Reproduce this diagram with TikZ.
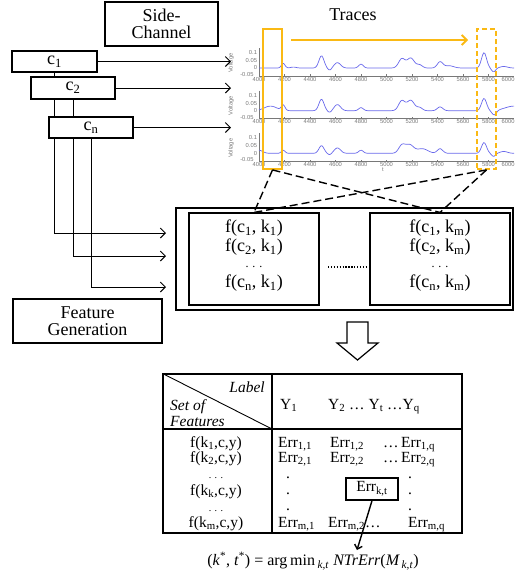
\documentclass[tikz,border=0pt]{standalone}
\usepackage{fontspec}
\setmainfont{Liberation Serif}
\newfontfamily\tickfont{Liberation Sans}
\usetikzlibrary{arrows.meta}
\pgfdeclarelayer{bg}
\pgfsetlayers{bg,main}
\definecolor{gold}{RGB}{250,185,20}
\definecolor{trc}{RGB}{105,105,235}
\definecolor{axg}{RGB}{120,120,120}
\newcommand{\sbs}[1]{\textsubscript{#1}}
\newcommand{\sps}[1]{\textsuperscript{#1}}
\begin{document}
\begin{tikzpicture}[x=1pt,y=-1pt,
  box/.style={draw,line width=1.1pt,fill=white,inner sep=0pt,align=center},
  big/.style={font=\fontsize{18}{18}\selectfont},
  tab/.style={font=\fontsize{15.5}{17}\selectfont,inner sep=0pt},
  arr/.style={line width=1pt,-{Straight Barb[length=5pt,width=10pt]}},
  dsh/.style={line width=1.4pt,dash pattern=on 8pt off 4pt},
  trace/.style={trc,line width=0.7pt},
  axisln/.style={axg,line width=0.4pt},
  ticklab/.style={axg,font=\tickfont\fontsize{5.8}{6}\selectfont,inner sep=0.3pt},
  declare function={
    gb(\xa,\ca,\wa)=exp(-min(((\xa-\ca)/\wa)*((\xa-\ca)/\wa),25));
    VA(\xa)=0.03*gb(\xa,190,20)+0.006*gb(\xa,270,30)+0.08*gb(\xa,490,28)-0.015*gb(\xa,555,20)+0.035*gb(\xa,615,35)+0.025*gb(\xa,800,25)+0.06*gb(\xa,1120,35)+0.065*gb(\xa,1190,40)+0.02*gb(\xa,1260,30)+0.04*gb(\xa,1420,30)+0.015*gb(\xa,1490,50)+0.1*gb(\xa,1765,28)-0.025*gb(\xa,1840,22)+0.01*gb(\xa,1920,40);
    VB(\xa)=0.03*gb(\xa,90,70)+0.035*gb(\xa,190,20)+0.075*gb(\xa,490,28)-0.012*gb(\xa,555,20)+0.04*gb(\xa,615,35)+0.02*gb(\xa,800,25)+0.065*gb(\xa,1120,35)+0.068*gb(\xa,1190,40)+0.02*gb(\xa,1260,30)+0.025*gb(\xa,1420,30)+0.08*gb(\xa,1765,28)-0.03*gb(\xa,1845,25)+0.03*gb(\xa,2000,100);
    VC(\xa)=0.02*gb(\xa,0,40)+0.02*gb(\xa,190,20)+0.05*gb(\xa,490,28)-0.01*gb(\xa,555,20)+0.035*gb(\xa,615,35)+0.02*gb(\xa,800,25)+0.05*gb(\xa,1120,35)+0.055*gb(\xa,1180,45)+0.03*gb(\xa,1280,60)+0.03*gb(\xa,1420,30)+0.07*gb(\xa,1765,28)-0.02*gb(\xa,1840,22)+0.012*gb(\xa,1920,40);
  }
]
\useasboundingbox (0,0) rectangle (515,576);

% ---------- trace plots ----------
\foreach \yo in {68,110.7,153.3}{
  \begin{scope}[shift={(0,\yo)}]
    \draw[axisln] (259,-20) -- (259,7.7) -- (514,7.7);
    \foreach \lab [count=\i from 0] in {4000,4200,...,5800}{
      \draw[axisln] (259+25.5*\i,7.7) -- ++(0,-1.5);
      \node[ticklab,anchor=north] at (259+25.5*\i,8.6) {\lab};
    }
    \node[ticklab,anchor=north east] at (515,8.6) {6000};
    \foreach \v/\yy in {0.1/-15.3,0.05/-7.65,0/0}
      \node[ticklab,anchor=east] at (257.5,\yy) {\v};
    \node[ticklab,anchor=east] at (254,6.5) {-0.05};
    \node[ticklab,rotate=90] at (231,-5) {Voltage};
  \end{scope}
}
\node[ticklab] (tlab) at (383,170) {t};
\draw[trace] plot[domain=0:2000,samples=220] ({259+0.1275*\x},{68-153*VA(\x)});
\draw[trace] plot[domain=0:2000,samples=220] ({259+0.1275*\x},{110.7-153*VB(\x)});
\draw[trace] plot[domain=0:2000,samples=220] ({259+0.1275*\x},{153.3-153*VC(\x)});

\node[big] (traces) at (353,15) {Traces};

% orange windows
\node[draw=gold,line width=1.8pt,minimum width=19pt,minimum height=140pt,inner sep=0pt] (oL) at (272.5,99) {};
\node[draw=gold,line width=1.8pt,dash pattern=on 5pt off 3pt,minimum width=19pt,minimum height=140pt,inner sep=0pt] (oR) at (486.5,99) {};
\coordinate (ga) at (291,40);
\coordinate (gz) at (468,40);
\draw[gold,line width=1.8pt,-{Straight Barb[length=5pt,width=10pt]}] (ga) -- (gz);

% ---------- left side ----------
\node[box,big,minimum width=113pt,minimum height=44pt] (side) at (161.5,24) {Side-\\[-1pt]Channel};
\node[box,big,minimum width=85pt,minimum height=21pt] (c1) at (54.5,61.5) {c\sbs{1}};
\node[box,big,minimum width=84pt,minimum height=22pt] (c2) at (73,88) {c\sbs{2}};
\node[box,big,minimum width=84pt,minimum height=21pt] (cn) at (91,127.5) {c\sbs{n}};
\node[box,big,minimum width=149pt,minimum height=44pt] (fg) at (87.5,321) {Feature\\[-1pt]Generation};

\coordinate (t1) at (231,61.5);
\coordinate (t2) at (231,88);
\coordinate (t3) at (231,127.5);
\draw[arr] (c1.east) -- (t1);
\draw[arr] (c2.east) -- (t2);
\draw[arr] (cn.east) -- (t3);

\coordinate (f1) at (166,233);
\coordinate (f2) at (166,256);
\coordinate (f3) at (166,287);
\begin{pgfonlayer}{bg}
\draw[arr] (c1.south) |- (f1);
\draw[arr] (c2.south) |- (f2);
\draw[arr] (cn.south) |- (f3);
\end{pgfonlayer}

% ---------- feature boxes ----------
\node[box,minimum width=337pt,minimum height=102pt] (outer) at (344.5,259) {};
\node[box,minimum width=130pt,minimum height=92pt] (inL) at (254,259) {};
\node[box,minimum width=140pt,minimum height=92pt] (inR) at (440,259) {};
\foreach \bx/\kk in {inL/1,inR/m}{
  \node[big,anchor=base,inner sep=0pt] at ([yshift=-20pt]\bx.north) {f(c\sbs{1}, k\sbs{\kk})};
  \node[big,anchor=base,inner sep=0pt] at ([yshift=-39pt]\bx.north) {f(c\sbs{2}, k\sbs{\kk})};
  \node[big,anchor=base,inner sep=0pt] at ([yshift=-55pt]\bx.north) {\fontsize{12}{12}\selectfont.\,\,.\,\,.};
  \node[big,anchor=base,inner sep=0pt] at ([yshift=-75pt]\bx.north) {f(c\sbs{n}, k\sbs{\kk})};
}
\coordinate (d1) at (328,267);
\coordinate (d2) at (366,267);
\draw[line width=1.3pt,dash pattern=on 1.3pt off 1.6pt] (d1) -- (d2);

\draw[dsh] (oL.south) -- (inL.north);
\draw[dsh] (oL.south) -- (inR.north);
\draw[dsh] (oR.south) -- (inL.north);
\draw[dsh] (oR.south) -- (inR.north);

% hollow down arrow
\draw[line width=1.2pt,line join=miter] (347,322) -- (368,322) -- (368,343) -- (378,343) -- (357.5,360) -- (337,343) -- (347,343) -- cycle;

% ---------- table ----------
\node[draw,line width=1.1pt,minimum width=299pt,minimum height=159pt,inner sep=0pt] (tbl) at (312.5,453.5) {};
\coordinate (vt) at (272,374);
\coordinate (vb) at (272,533);
\coordinate (hl) at (163,429);
\coordinate (hr) at (462,429);
\coordinate (hm) at (272,429);
\draw[line width=1.1pt] (vt) -- (vb);
\draw[line width=1.1pt] (hl) -- (hr);
\draw[line width=0.9pt] (tbl.north west) -- (hm);

\node[tab,anchor=base east] at (265,392) {\itshape Label};
\node[tab,anchor=base west] at (170,410) {\itshape Set of};
\node[tab,anchor=base west] at (170,426) {\itshape Features};
\node[tab,anchor=base west] at (280,409) {Y\sbs{1}};
\node[tab,anchor=base west] at (328,409) {Y\sbs{2} \dots{} Y\sbs{t} \dots Y\sbs{q}};

\foreach \yy/\kk in {447/1,462/2,495/k,527/m}
  \node[tab,anchor=base] at (216,\yy) {f(k\sbs{\kk},c,y)};
\foreach \yy in {478,511}
  \node[tab,anchor=base] at (216,\yy) {\fontsize{10}{10}\selectfont.\,\,.\,\,.};

\node[tab,anchor=base west] at (278,447) {Err\sbs{1,1}};
\node[tab,anchor=base west] at (330,447) {Err\sbs{1,2}};
\node[tab,anchor=base west] at (383,447) {\dots};
\node[tab,anchor=base west] at (401,447) {Err\sbs{1,q}};
\node[tab,anchor=base west] at (278,462) {Err\sbs{2,1}};
\node[tab,anchor=base west] at (330,462) {Err\sbs{2,2}};
\node[tab,anchor=base west] at (383,462) {\dots};
\node[tab,anchor=base west] at (401,462) {Err\sbs{2,q}};
\foreach \yy in {478,494,510}{
  \node[tab,anchor=base] at (288,\yy) {.};
  \node[tab,anchor=base] at (410,\yy) {.};
}
\node[tab,anchor=base west] at (278,527) {Err\sbs{m,1}};
\node[tab,anchor=base west] at (328,527) {Err\sbs{m,2}\dots};
\node[tab,anchor=base west] at (408,527) {Err\sbs{m,q}};

\node[draw,line width=1.4pt,fill=white,tab,minimum width=52pt,minimum height=22pt] (ekt) at (372,489) {Err\sbs{k,t}};
\coordinate (fa) at (357,550);
\draw[line width=1.4pt,-{Straight Barb[length=4pt,width=8pt]}] (ekt.south) -- (fa);

\node[font=\fontsize{16}{16}\selectfont,inner sep=0pt] (form) at (313,561)
  {(\textit{k}\sps{*}, \textit{t}\sps{*}) = arg\,min\,\textsubscript{\textit{k,t}} \textit{NTrErr}(\textit{M}\textsubscript{\,\textit{k,t}})};
\end{tikzpicture}
\end{document}
